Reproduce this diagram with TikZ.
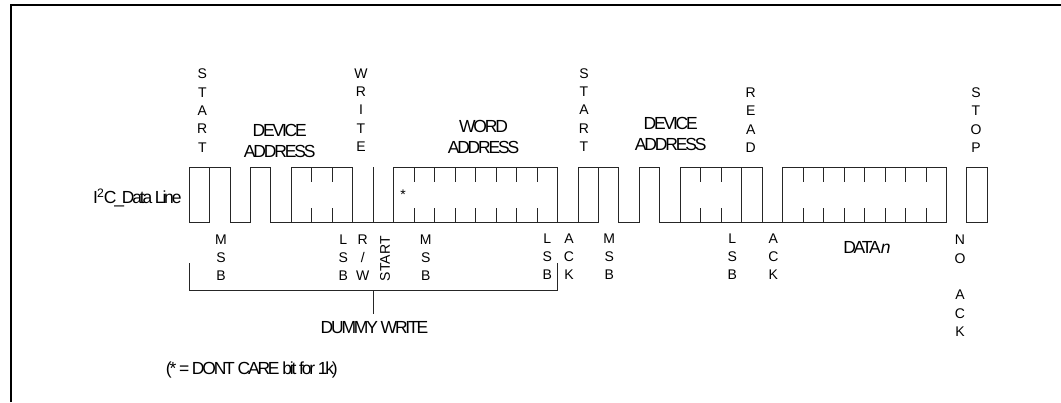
\documentclass[tikz,border=0pt]{standalone}
\usepackage{fontspec}
\setmainfont{Liberation Sans}
\newfontfamily\narrowsans[LetterSpace=-12.5]{Liberation Sans}
\begin{document}
\begin{tikzpicture}[x=1pt,y=-1pt,
  wave/.style={line width=0.8pt, black!85},
  lbl/.style={font=\fontsize{14}{18.3}\selectfont, inner sep=0pt, align=center},
  nlbl/.style={font=\narrowsans\fontsize{17.5}{21.5}\selectfont, inner sep=0pt, align=center},
  stack/.style={lbl, anchor=north},
  title/.style={nlbl, anchor=north},
]
\useasboundingbox (0,0) rectangle (1061,402);
\draw[line width=2pt] (11,402) -- (11,5) -- (1061,5);

% waveform
\begin{scope}[xshift=189pt, x=20.47pt, wave]
\def\wH{167}\def\wL{222}
\draw (0,\wL) -- (0,\wH) -- (2,\wH) -- (2,\wL) -- (3,\wL) -- (3,\wH) -- (4,\wH) -- (4,\wL) -- (20,\wL) -- (20,\wH);
\draw (0,\wL) -- (1,\wL) -- (1,\wH);
\draw (5,\wL) -- (5,\wH) -- (8,\wH) -- (8,\wL);
\draw (9,\wL) -- (9,\wH);
\draw (10,\wL) -- (10,\wH) -- (18,\wH) -- (18,\wL);
\draw (19,\wL) -- (19,\wH) -- (21,\wH) -- (21,\wL) -- (22,\wL) -- (22,\wH) -- (23,\wH) -- (23,\wL) -- (37,\wL) -- (37,\wH) -- (29,\wH) -- (29,\wL);
\draw (24,\wL) -- (24,\wH) -- (28,\wH) -- (28,\wL);
\draw (27,\wL) -- (27,\wH);
\draw (38,\wL) rectangle (39,\wH);
\foreach \k in {6,7,11,12,13,14,15,16,17,25,26,30,31,32,33,34,35,36}{
  \draw (\k,\wH) -- (\k,181.7);
  \draw (\k,208.3) -- (\k,\wL);
}
\end{scope}

% labels above
\node[stack] (st1) at (202.3,69) {S\\T\\A\\R\\T};
\node[title] (da1) at (279.7,123.8) {DEVICE\\ADDRESS};
\node[stack] (wr) at (361,68.3) {W\\R\\I\\T\\E};
\node[title] (wa) at (483.5,119.8) {WORD\\ADDRESS};
\node[stack] (st2) at (584,68.3) {S\\T\\A\\R\\T};
\node[title] (da2) at (670.7,116.8) {DEVICE\\ADDRESS};
\node[stack] (rd) at (750.7,87.7) {R\\E\\A\\D};
\node[stack] (sp) at (976,87.7) {S\\T\\O\\P};

\node[nlbl, anchor=base east] (dl) at (181.7,203.5) {I\kern-0.8pt\textsuperscript{2}\kern-0.5ptC\_Data Line};
\node[lbl] (dc) at (403,194.7) {*};

% labels below
\node[stack] (m1) at (221,234.5) {M\\S\\B};
\node[stack] (l1) at (343.3,234.5) {L\\S\\B};
\node[stack] (rw) at (362.7,234.5) {R\\/\\W};
\node[lbl, rotate=90] (st3) at (385,258.7) {START};
\node[stack] (m2) at (425.7,234.5) {M\\S\\B};
\node[stack] (l2) at (547.3,233.5) {L\\S\\B};
\node[stack] (a1) at (569,233.5) {A\\C\\K};
\node[stack] (m3) at (609.3,233.5) {M\\S\\B};
\node[stack] (l3) at (732.3,233.5) {L\\S\\B};
\node[stack] (a2) at (773.3,233.5) {A\\C\\K};
\node[nlbl, anchor=base] (dn) at (865.8,253.5) {DATA\textit{n}};
\node[stack] (na) at (960,235) {N\\O\\\mbox{}\\A\\C\\K};

% dummy write bracket
\coordinate (bl) at (189,263.3);
\coordinate (br) at (557.3,262.7);
\coordinate (bm) at (373.3,290.7);
\draw[wave] (bl) -- (bl |- bm) -- (br |- bm) -- (br);
\node[nlbl, anchor=base] (dw) at (374.5,333.5) {DUMMY WRITE};
\draw[wave] (bm) -- (373.3,314);

\node[nlbl, anchor=base west] (fn) at (165.7,374.5) {(* = DONT CARE bit for 1k)};
\end{tikzpicture}
\end{document}
